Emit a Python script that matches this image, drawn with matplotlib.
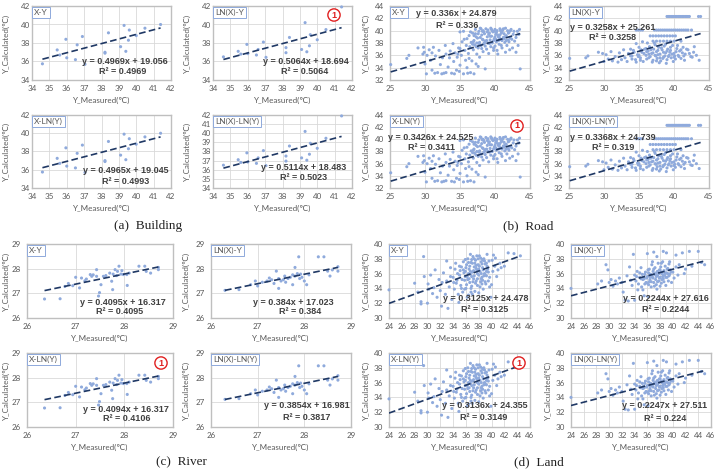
import matplotlib.pyplot as plt
import numpy as np

plt.rcParams['font.family'] = ['Lato', 'DejaVu Sans']

W, H = 728, 469

# ---- data ----
building_x = [34.6, 35.45, 35.6, 35.95, 36.0, 36.5, 36.6, 36.9, 37.05, 38.2,
              38.2, 38.4, 39.1, 39.3, 39.4, 39.55, 39.6, 40.0, 40.5, 41.4]
building_y_lin = [35.75, 37.25, 36.7, 38.4, 36.4, 36.2, 37.8, 38.7, 35.7, 36.9,
                  37.0, 39.1, 37.6, 39.9, 37.1, 38.3, 39.4, 38.8, 39.6, 40.0]
building_y_ln = [36.5, 37.1, 36.8, 37.85, 36.85, 36.7, 37.3, 38.1, 36.45, 36.95,
                 37.5, 38.6, 37.3, 40.2, 37.05, 37.7, 38.9, 38.35, 39.45, 41.9]

road_lin = [
    (25.1, 34.5), (27.4, 35.5), (27.7, 36.0), (29.0, 37.2), (29.8, 37.3), (29.9, 36.5),
    (30.0, 34.6), (30.2, 33.0), (30.3, 36.0), (30.8, 35.2), (31.0, 33.6), (31.2, 37.3),
    (31.5, 35.9), (31.8, 33.2), (32.0, 36.8), (32.2, 34.5), (32.5, 35.6), (32.7, 33.1),
    (32.9, 37.6), (33.0, 36.2), (33.3, 34.1), (33.5, 35.6), (33.6, 36.7), (33.8, 33.1),
    (34.0, 37.9), (34.1, 35.0), (34.3, 36.4), (34.5, 33.6), (34.6, 35.7), (34.8, 37.2),
    (35.0, 39.8), (35.0, 34.4), (35.2, 36.0), (35.3, 38.2), (35.5, 39.9), (35.5, 33.0),
    (35.7, 36.8), (35.8, 35.2), (35.9, 37.6), (36.0, 38.7), (36.0, 34.0), (36.2, 36.3),
    (36.3, 39.2), (36.4, 37.4), (36.5, 33.2), (36.6, 38.1), (36.7, 35.1), (36.8, 39.6),
    (36.9, 36.9), (37.0, 38.4), (37.1, 37.7), (37.2, 40.2), (37.3, 34.6), (37.3, 39.0),
    (37.4, 36.2), (37.5, 38.8), (37.6, 37.2), (37.7, 39.9), (37.8, 38.1), (37.8, 35.7),
    (37.9, 40.4), (38.0, 37.6), (38.1, 39.3), (38.2, 38.6), (38.3, 36.6), (38.3, 40.0),
    (38.4, 37.9), (38.5, 39.5), (38.6, 33.8), (38.6, 38.3), (38.7, 40.3), (38.8, 37.0),
    (38.9, 39.0), (39.0, 38.0), (39.0, 40.1), (39.1, 36.3), (39.2, 39.6), (39.3, 38.5),
    (39.4, 37.4), (39.4, 40.4), (39.5, 39.1), (39.6, 38.0), (39.7, 39.8), (39.8, 36.8),
    (39.9, 38.7), (40.0, 40.2), (40.0, 37.5), (40.1, 39.4), (40.2, 38.2), (40.3, 40.0),
    (40.4, 36.2), (40.5, 39.0), (40.6, 37.8), (40.7, 40.3), (40.8, 38.6), (40.9, 39.6),
    (41.0, 37.2), (41.1, 40.1), (41.2, 38.9), (41.3, 39.5), (41.4, 38.1), (41.5, 40.4),
    (41.6, 39.2), (41.7, 37.6), (41.8, 40.0), (41.9, 38.5), (42.0, 39.7), (42.1, 36.9),
    (42.2, 38.8), (42.3, 40.2), (42.5, 37.2), (42.6, 39.4), (42.8, 38.3), (43.0, 36.5),
    (43.2, 39.9), (43.5, 40.2), (43.6, 33.8), (43.3, 37.6), (37.4, 38.0), (37.9, 38.9),
    (38.4, 39.8), (38.8, 38.4), (39.1, 39.4), (39.6, 40.0), (40.1, 38.6), (40.4, 39.3),
    (40.8, 40.0), (41.3, 38.7), (38.1, 37.1), (37.6, 39.5), (39.9, 39.9), (40.6, 38.9),
    (41.0, 39.8), (36.1, 33.1), (37.0, 33.0), (33.0, 33.2), (34.2, 33.0), (31.0, 36.4),
    (36.5, 39.8), (36.9, 38.2), (37.2, 39.5), (37.7, 37.9), (38.0, 40.3), (38.2, 39.9),
    (38.5, 38.0), (38.9, 39.8), (39.2, 37.9), (39.5, 40.2), (39.8, 38.4), (40.2, 39.7),
    (40.5, 38.4), (40.7, 39.3), (40.9, 37.6), (41.2, 40.3), (41.4, 39.0), (41.6, 38.4),
    (41.9, 39.6), (42.2, 40.0), (42.4, 38.6), (42.7, 39.9), (43.0, 38.9), (43.4, 39.4),
    (37.3, 37.4), (38.6, 37.5), (39.8, 37.2), (40.3, 36.8), (41.5, 36.5), (36.8, 37.8),
    (35.6, 38.6), (35.0, 37.1), (34.7, 36.2), (36.3, 35.5), (37.6, 34.2), (34.9, 33.4),
    (32.4, 33.0), (31.4, 33.1), (30.6, 36.9), (29.7, 36.2), (40.0, 39.0), (39.3, 39.1),
    (38.3, 38.5), (37.0, 39.2), (42.0, 38.2), (41.0, 38.4),
]

road_ln = [
    (39.0, 42.3), (39.2, 42.3), (39.4, 42.3), (39.6, 42.3), (39.8, 42.3), (40.0, 42.3),
    (40.2, 42.3), (40.4, 42.3), (40.6, 42.3), (40.8, 42.3), (41.0, 42.3), (41.2, 42.3),
    (41.4, 42.3), (41.6, 42.3), (41.8, 42.3), (42.0, 42.3), (42.2, 42.3), (43.5, 42.3),
    (43.8, 42.3), (34.6, 40.1), (34.9, 40.1), (35.2, 40.1), (35.5, 40.1), (37.2, 40.1),
    (37.5, 40.1), (37.8, 40.1), (38.1, 40.1), (38.4, 40.1), (38.7, 40.1), (39.0, 40.1),
    (39.3, 40.1), (39.6, 40.1), (39.9, 40.1), (40.2, 40.1), (40.5, 40.1), (40.8, 40.1),
    (41.1, 40.1), (41.4, 40.1), (41.7, 40.1), (42.0, 40.1), (42.5, 40.1), (36.6, 39.15),
    (37.0, 39.15), (37.4, 39.15), (37.8, 39.15), (38.2, 39.15), (38.6, 39.15), (39.0, 39.15),
    (39.4, 39.15), (39.8, 39.15), (40.2, 39.15), (37.0, 38.3), (37.5, 38.3), (38.0, 38.3),
    (38.5, 38.3), (39.0, 38.3), (39.5, 38.3), (40.0, 38.3), (41.0, 38.3),
    (33.5, 36.3), (34.0, 35.9), (34.2, 36.8), (34.5, 35.3), (34.8, 36.1), (35.0, 37.3),
    (35.2, 35.6), (35.4, 36.5), (35.6, 35.0), (35.8, 37.0), (36.0, 36.0), (36.1, 35.4),
    (36.3, 36.7), (36.5, 37.4), (36.6, 35.8), (36.8, 36.3), (37.0, 35.2), (37.1, 37.0),
    (37.3, 36.0), (37.5, 36.6), (37.6, 35.5), (37.8, 37.3), (38.0, 36.2), (38.1, 35.1),
    (38.3, 36.9), (38.5, 35.7), (38.6, 37.5), (38.8, 36.4), (39.0, 35.3), (39.1, 37.0),
    (39.3, 36.0), (39.5, 36.8), (39.6, 35.6), (39.8, 37.6), (40.0, 36.3), (40.2, 35.4),
    (40.4, 37.1), (40.6, 36.0), (40.8, 36.7), (41.0, 35.5), (41.3, 37.3), (41.6, 36.2),
    (42.0, 36.9), (42.4, 35.8), (42.8, 36.5), (43.2, 36.0), (43.6, 35.2), (36.9, 34.9),
    (37.9, 34.8), (38.9, 34.7), (34.6, 37.9), (35.5, 38.2), (36.2, 38.0), (37.2, 38.0),
    (25.1, 35.5), (27.4, 35.6), (27.7, 35.9), (29.2, 36.5), (29.8, 36.3), (30.0, 35.0),
    (30.3, 36.1), (30.6, 35.4), (31.0, 36.6), (31.2, 35.1), (31.6, 35.8), (32.0, 34.9),
    (32.2, 36.4), (32.5, 35.3), (32.8, 36.9), (33.0, 35.6), (33.3, 35.0), (33.8, 37.0),
    (34.0, 35.4), (35.2, 35.2), (36.4, 36.2), (37.7, 36.1), (38.4, 35.5), (39.4, 36.5),
    (40.1, 35.9), (41.2, 36.4), (42.6, 35.7), (42.9, 37.4),
    (34.3, 36.5), (34.9, 35.8), (35.3, 36.9), (35.7, 36.3), (36.0, 37.1), (36.4, 35.6),
    (36.7, 36.9), (37.0, 36.4), (37.4, 35.9), (37.7, 36.8), (38.0, 35.6), (38.2, 37.2),
    (38.5, 36.5), (38.7, 35.9), (39.0, 36.7), (39.2, 35.8), (39.5, 37.3), (39.7, 36.2),
    (40.0, 35.7), (40.3, 36.6), (40.5, 37.6), (40.7, 35.8), (41.0, 36.9), (41.4, 35.9),
    (41.8, 37.0), (42.2, 36.3), (37.3, 37.7), (38.8, 37.8), (36.1, 36.6), (35.0, 36.0),
    (33.8, 35.9), (34.6, 34.9), (37.5, 35.1), (39.9, 35.0), (41.5, 35.2),
]

river_lin = [
    (26.36, 26.77), (26.68, 26.78), (26.78, 27.28), (26.85, 27.40), (26.94, 27.31),
    (27.00, 27.65), (27.08, 27.22), (27.12, 27.62), (27.19, 27.51), (27.30, 27.76),
    (27.33, 27.69), (27.43, 27.96), (27.43, 27.69), (27.47, 26.89), (27.49, 27.03),
    (27.52, 27.35), (27.57, 27.69), (27.62, 27.72), (27.70, 27.82), (27.74, 27.49),
    (27.76, 27.15), (27.77, 27.78), (27.81, 27.96), (27.86, 27.89), (27.89, 28.10),
    (27.93, 27.78), (27.98, 27.76), (28.05, 27.76), (28.06, 27.32), (28.10, 27.82),
    (28.30, 28.10), (28.42, 28.10), (28.45, 27.89), (28.54, 27.82), (28.70, 27.96),
    (28.70, 28.05), (27.22, 27.58), (27.36, 27.75), (27.84, 27.72), (27.95, 27.92),
]

river_ln = [
    (26.30, 27.12), (26.60, 27.15), (26.85, 27.35), (26.95, 27.50), (27.00, 27.30),
    (27.10, 27.45), (27.20, 27.50), (27.30, 27.55), (27.35, 27.40), (27.40, 27.90),
    (27.45, 27.20), (27.45, 27.60), (27.50, 27.50), (27.55, 27.55), (27.60, 27.45),
    (27.65, 27.60), (27.70, 27.65), (27.75, 27.35), (27.75, 27.75), (27.80, 28.05),
    (27.80, 27.70), (27.85, 27.80), (27.88, 28.48), (27.90, 27.60), (27.95, 27.65),
    (28.00, 27.50), (28.05, 27.35), (28.10, 27.75), (28.30, 28.48), (28.42, 28.48),
    (28.50, 27.90), (28.55, 27.70), (28.60, 27.95), (28.72, 28.08), (28.72, 27.90),
    (27.25, 27.62), (27.58, 27.70), (27.92, 27.78),
]

land_lin = [
    (24.0, 33.8), (28.0, 34.7), (28.5, 33.5), (29.0, 32.2), (29.0, 31.9), (29.4, 38.3),
    (29.5, 35.6), (30.0, 32.0), (30.1, 34.6), (30.2, 33.9), (30.5, 35.8), (30.8, 33.3),
    (31.0, 34.1), (31.2, 36.5), (31.5, 32.8), (31.8, 35.2), (32.0, 33.7), (32.2, 31.6),
    (32.3, 34.8), (32.5, 36.1), (32.8, 33.2), (33.0, 37.7), (33.0, 35.0), (33.2, 31.3),
    (33.4, 34.2), (33.6, 36.8), (33.8, 32.5), (34.0, 35.5), (34.2, 33.9), (34.4, 37.4),
    (34.5, 34.7), (34.7, 36.0), (34.9, 32.1), (35.0, 35.8), (35.2, 34.4), (35.3, 36.9),
    (35.5, 33.5), (35.6, 37.6), (35.8, 35.1), (35.9, 36.3), (36.0, 34.0), (36.1, 37.2),
    (36.2, 35.6), (36.3, 38.0), (36.4, 33.1), (36.5, 36.6), (36.6, 34.8), (36.7, 35.9),
    (36.8, 37.5), (36.9, 34.3), (37.0, 36.2), (37.1, 38.3), (37.2, 35.3), (37.3, 36.9),
    (37.4, 33.6), (37.5, 37.8), (37.6, 35.0), (37.7, 36.5), (37.8, 34.4), (37.9, 37.2),
    (38.0, 35.8), (38.1, 38.4), (38.2, 36.3), (38.3, 34.9), (38.4, 37.6), (38.5, 35.5),
    (38.6, 36.8), (38.7, 33.9), (38.8, 38.0), (38.9, 36.0), (39.0, 37.3), (39.1, 34.6),
    (39.2, 35.7), (39.3, 38.6), (39.4, 36.6), (39.5, 35.0), (39.6, 37.7), (39.7, 34.2),
    (35.4, 35.2), (35.7, 36.1), (36.0, 36.8), (36.3, 35.2), (36.6, 37.0), (36.9, 35.6),
    (37.2, 36.4), (37.5, 34.7), (37.8, 36.0), (38.1, 37.0), (38.4, 35.3), (38.7, 36.5),
    (39.0, 35.9), (39.3, 37.0), (37.0, 33.2), (36.2, 32.8), (38.0, 33.4), (34.8, 33.2),
    (36.7, 38.6), (37.4, 37.4), (38.3, 38.1), (37.7, 38.4), (38.9, 37.7), (40.0, 34.5),
    (40.2, 36.3), (40.3, 38.5), (40.5, 37.0), (40.8, 35.6), (41.0, 36.5), (41.3, 37.4),
    (41.5, 36.8), (42.0, 37.0), (42.6, 38.8), (43.5, 38.7), (44.5, 38.4), (39.9, 32.8),
    (40.1, 37.8), (40.6, 38.1), (35.1, 36.4), (36.4, 36.0), (37.6, 36.7), (38.6, 35.1),
    (39.2, 36.3), (36.8, 34.0), (35.9, 37.9), (37.3, 38.0), (38.5, 37.3), (34.3, 36.6),
    (34.6, 35.1), (35.0, 37.0), (35.3, 34.0), (35.6, 36.5), (35.9, 35.6), (36.1, 34.5),
    (36.4, 37.5), (36.7, 36.3), (36.9, 37.9), (37.1, 34.9), (37.3, 35.7), (37.6, 37.1),
    (37.8, 35.3), (38.0, 36.6), (38.2, 34.2), (38.4, 36.0), (38.6, 37.9), (38.8, 35.7),
    (39.0, 34.9), (39.2, 37.4), (39.5, 36.2), (39.7, 35.5), (36.5, 35.3), (37.0, 37.4),
    (37.9, 38.0), (38.5, 34.6), (35.8, 33.9), (36.8, 33.5), (34.1, 34.8), (33.6, 35.6),
]

land_ln = [
    (24.0, 34.0), (28.2, 34.6), (28.8, 35.0), (29.5, 37.2), (29.8, 36.5), (30.0, 34.8),
    (30.3, 35.2), (30.6, 34.3), (31.0, 35.0), (31.3, 34.6), (31.6, 35.4), (32.0, 34.8),
    (32.2, 33.5), (32.5, 32.4), (32.8, 35.7), (33.0, 32.3), (33.2, 36.9), (33.4, 35.1),
    (33.6, 34.4), (33.8, 38.6), (34.0, 32.4), (34.0, 35.8), (34.2, 35.0), (34.4, 36.3),
    (34.6, 34.6), (34.8, 35.5), (35.0, 36.8), (35.1, 34.2), (35.2, 35.9), (35.3, 33.8),
    (35.5, 33.0), (35.5, 35.3), (35.7, 36.2), (35.8, 34.8), (36.0, 35.6), (36.0, 38.7),
    (36.1, 32.9), (36.2, 34.5), (36.3, 36.6), (36.4, 35.2), (36.5, 35.9), (36.6, 34.2),
    (36.7, 37.2), (36.8, 35.5), (36.9, 36.3), (37.0, 34.8), (37.0, 38.9), (37.1, 35.9),
    (37.2, 36.8), (37.3, 35.2), (37.4, 34.5), (37.5, 36.2), (37.5, 38.3), (37.6, 35.7),
    (37.7, 37.4), (37.8, 35.0), (37.9, 36.5), (38.0, 35.5), (38.1, 36.9), (38.2, 34.7),
    (38.3, 36.0), (38.4, 37.6), (38.5, 35.3), (38.5, 39.0), (38.6, 36.4), (38.7, 35.8),
    (38.8, 37.0), (38.9, 34.4), (39.0, 36.1), (39.0, 38.8), (39.1, 35.5), (39.2, 36.7),
    (39.3, 35.0), (39.4, 37.3), (39.5, 35.9), (39.6, 36.5), (39.8, 34.8), (40.0, 36.2),
    (40.2, 35.4), (40.5, 38.5), (40.5, 36.9), (40.8, 35.8), (41.0, 37.2), (41.5, 38.8),
    (41.8, 36.0), (42.0, 36.6), (42.6, 39.0), (43.0, 37.0), (44.0, 39.0), (44.5, 37.5),
    (45.0, 37.2), (35.4, 35.5), (35.9, 35.4), (36.4, 35.6), (36.9, 35.4), (37.4, 35.6),
    (37.9, 35.4), (38.4, 35.6), (38.9, 35.5), (36.2, 36.1), (37.2, 36.0), (38.2, 36.2),
    (39.2, 36.0), (36.6, 34.9), (37.6, 34.9), (38.6, 34.9), (35.6, 34.6), (34.5, 33.8),
    (34.8, 36.1), (35.3, 35.2), (35.6, 35.9), (36.1, 36.5), (36.3, 34.9), (36.7, 35.8),
    (37.0, 36.6), (37.3, 35.9), (37.6, 36.3), (37.8, 36.0), (38.0, 36.5), (38.3, 35.2),
    (38.6, 35.8), (38.8, 36.1), (39.1, 36.6), (39.4, 35.7), (39.7, 36.2), (36.0, 34.7),
    (37.1, 34.3), (38.0, 34.3), (35.0, 35.3), (36.8, 37.6), (38.2, 37.4), (39.5, 37.6),
    (37.5, 33.9), (34.3, 35.6),
]

tags = ['X-Y', 'LN(X)-Y', 'X-LN(Y)', 'LN(X)-LN(Y)']
slopes = {'building': [0.4969, 0.5064, 0.4965, 0.5114],
          'road': [0.336, 0.3258, 0.3426, 0.3368],
          'river': [0.4095, 0.384, 0.4094, 0.3854],
          'land': [0.3125, 0.2244, 0.3136, 0.2247]}
intercepts = {'building': [19.056, 18.694, 19.045, 18.483],
              'road': [24.879, 25.261, 24.525, 24.739],
              'river': [16.317, 17.023, 16.317, 16.981],
              'land': [24.478, 27.616, 24.355, 27.511]}
r_squared = {'building': ['0.4969', '0.5064', '0.4993', '0.5023'],
             'road': ['0.336', '0.3258', '0.3411', '0.319'],
             'river': ['0.4095', '0.384', '0.4106', '0.3817'],
             'land': ['0.3125', '0.2244', '0.3149', '0.224']}
captions = ['(a)  Building', '(b)  Road', '(c)  River', '(d)  Land']


def unzip(pts):
    a = np.array(pts)
    return a[:, 0], a[:, 1]


rx_lin, ry_lin = unzip(road_lin)
rx_ln, ry_ln = unzip(road_ln)
vx_lin, vy_lin = unzip(river_lin)
vx_ln, vy_ln = unzip(river_ln)
lx_lin, ly_lin = unzip(land_lin)
lx_ln, ly_ln = unzip(land_ln)

series = {
    'building': [(building_x, building_y_lin), (building_x, building_y_ln),
                 (building_x, building_y_lin), (building_x, building_y_ln)],
    'road': [(rx_lin, ry_lin), (rx_ln, ry_ln), (rx_lin, ry_lin), (rx_ln, ry_ln)],
    'river': [(vx_lin, vy_lin), (vx_ln, vy_ln), (vx_lin, vy_lin), (vx_ln, vy_ln)],
    'land': [(lx_lin, ly_lin), (lx_ln, ly_ln), (lx_lin, ly_lin), (lx_ln, ly_ln)],
}

# ---- layout (pixels) ----
rows = [(6, 80), (115, 188), (244, 318), (353, 427)]
group_cfg = {
    'building': dict(cols=[(32, 171), (213, 352)], rows=rows[:2], ylab_x=[6, 187],
                     xlim=(34, 42), xticks=range(34, 43), ylim=(34, 42),
                     yticks=[range(34, 43, 2)] * 3 + [range(34, 43)], pad=2,
                     eq=[(125, 62, 123, 71), (306, 62, 305, 71),
                         (126, 170, 126, 181), (304, 167, 304, 177)]),
    'road': dict(cols=[(390, 530), (569, 709)], rows=rows[:2], ylab_x=[366, 547],
                 xlim=(25, 45), xticks=range(25, 46, 5), ylim=(32, 44),
                 yticks=[range(32, 45, 2)] * 4, pad=6,
                 eq=[(456, 14, 457, 25), (613, 28, 613, 38),
                     (431, 137, 431, 147), (613, 138, 613, 147)]),
    'river': dict(cols=[(27, 173), (211, 351)], rows=rows[2:], ylab_x=[6, 186],
                  xlim=(26, 29), xticks=range(26, 30), ylim=(26, 29),
                  yticks=[range(26, 30)] * 4, pad=6,
                  eq=[(123, 302, 120, 312), (293, 302, 300, 312),
                      (126, 409, 127, 418), (307, 406, 307, 417)]),
    'land': dict(cols=[(389, 530), (571, 711)], rows=rows[2:], ylab_x=[366, 548],
                 xlim=(24, 46), xticks=range(24, 47, 2), ylim=(30, 40),
                 yticks=[range(30, 41, 2)] * 4, pad=6,
                 eq=[(486, 298, 485, 309), (666, 298, 666, 309),
                     (485, 406, 484, 417), (665, 406, 665, 418)]),
}
circles = {('building', 1): (334, 15), ('road', 2): (517, 126),
           ('river', 2): (161, 363), ('land', 2): (519, 363)}
caption_pos = [(148, 226), (528, 226), (181, 462), (539, 462)]

GREY = '#595959'
BOLD_FONT = ['Liberation Sans', 'DejaVu Sans']
fig = plt.figure(figsize=(W / 100, H / 100), dpi=100)

for g, cfg in group_cfg.items():
    for k in range(4):
        x0, x1 = cfg['cols'][k % 2]
        y0, y1 = cfg['rows'][k // 2]
        ax = fig.add_axes([x0 / W, 1 - y1 / H, (x1 - x0) / W, (y1 - y0) / H])
        x, y = series[g][k]
        ax.scatter(x, y, s=5, color='#8FAADC', edgecolors='none', zorder=3,
                   clip_on=False)
        m, b = slopes[g][k], intercepts[g][k]
        xs = np.array([np.min(x), np.max(x)])
        ax.plot(xs, m * xs + b, color='#1F3864', lw=1.2, ls=(0, (4, 2)),
                zorder=4)
        ax.set_xlim(*cfg['xlim'])
        ax.set_ylim(*cfg['ylim'])
        ax.set_xticks(list(cfg['xticks']))
        ax.set_yticks(list(cfg['yticks'][k]))
        ax.grid(True, color='#D9D9D9', lw=0.6)
        ax.set_axisbelow(True)
        for sp in ax.spines.values():
            sp.set_color('#BFBFBF')
            sp.set_linewidth(1.0)
        ax.tick_params(length=0, labelsize=5.8, labelcolor=GREY, pad=cfg['pad'] * 0.72)
        ax.tick_params(axis='x', pad=3.5)
        ax.text(0.015, 0.96, tags[k], transform=ax.transAxes, ha='left', va='top',
                fontsize=6, color=GREY, zorder=5,
                bbox=dict(boxstyle='square,pad=0.25', fc='white', ec='#8EA9DB', lw=0.7))
        # axis titles
        fig.text((x0 + x1) / 2 / W, 1 - (y1 + 20) / H, 'Y_Measured(℃)',
                 ha='center', va='center', fontsize=5.8, color=GREY)
        fig.text(cfg['ylab_x'][k % 2] / W, 1 - (y0 + y1) / 2 / H, 'Y_Calculated(℃)',
                 ha='center', va='center', rotation=90, fontsize=5.8, color=GREY)
        ex, ey, rx, ry = cfg['eq'][k]
        fig.text(ex / W, 1 - ey / H, f'y = {m}x + {b:.3f}', ha='center',
                 va='center', fontsize=6.5, fontweight='bold', color='#404040',
                 family=BOLD_FONT)
        fig.text(rx / W, 1 - ry / H, f'R² = {r_squared[g][k]}', ha='center',
                 va='center', fontsize=6.5, fontweight='bold', color='#404040',
                 family=BOLD_FONT)
        if (g, k) in circles:
            cx, cy = circles[(g, k)]
            fig.text(cx / W, 1 - cy / H, '1', ha='center', va='center',
                     fontsize=6.5, fontweight='bold', color='#E02020',
                     family=BOLD_FONT,
                     bbox=dict(boxstyle='circle,pad=0.18', fc='white',
                               ec='#E02020', lw=1.0))

for cap, (px, py) in zip(captions, caption_pos):
    fig.text(px / W, 1 - py / H, cap, ha='center', va='center', fontsize=9.5,
             family=['Liberation Serif', 'DejaVu Serif'], color='#222222')

fig.savefig('out.png', dpi=100)
